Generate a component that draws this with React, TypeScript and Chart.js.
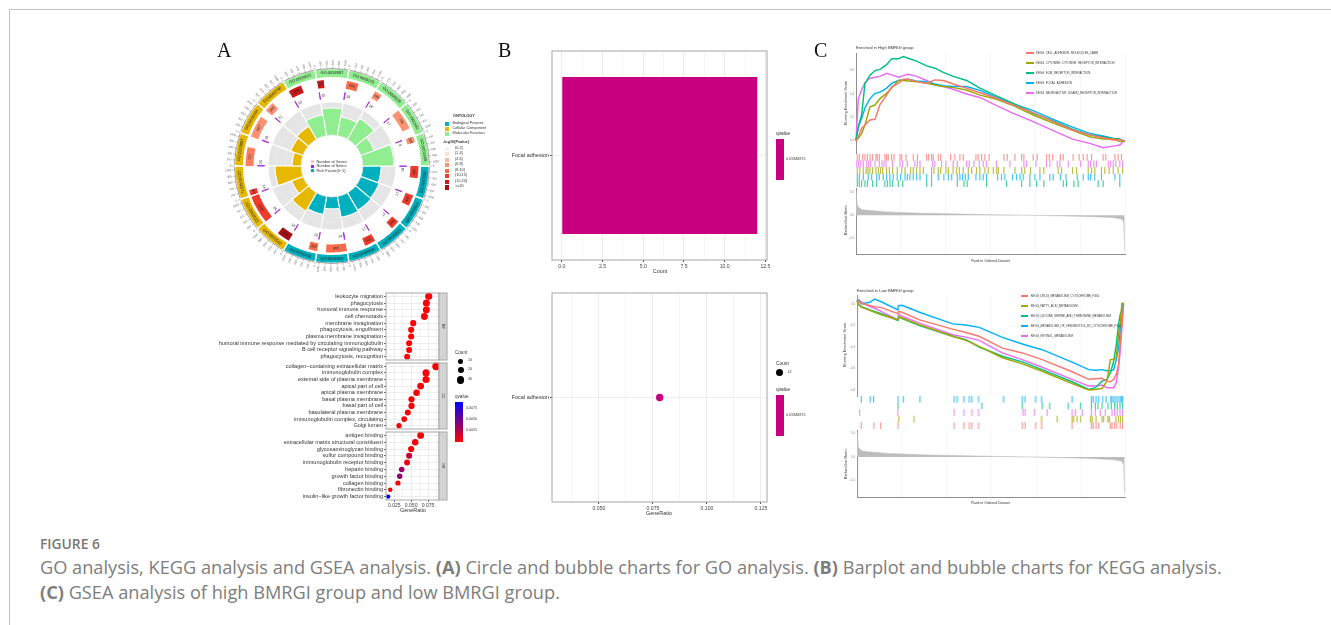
import React, { useEffect, useRef } from "react";
import { Chart, registerables } from "chart.js";
Chart.register(...registerables);

const SANS = '"Liberation Sans", Arial, sans-serif';

// ---------- Panel A: GO circle ----------
const goIds = [
  "GO:0002250", "GO:0099024", "GO:0006910", "GO:0050900", "GO:0006909", "GO:0002455",
  "GO:0072562", "GO:0062023", "GO:0042571", "GO:0009897", "GO:0016324", "GO:0005796",
  "GO:0003823", "GO:0034987", "GO:0005201", "GO:0005539", "GO:1901681", "GO:0001968",
];
const goRich = [0.55, 0.58, 0.61, 0.64, 0.36, 0.55, 0.64, 0.36, 0.79, 0.27, 0.39, 0.45, 0.64, 0.82, 0.58, 0.73, 0.42, 0.94];
const goGenes = [465, 423, 346, 421, 800, 333, 501, 1084, 207, 727, 847, 384, 509, 257, 455, 290, 798, 228];
const goSelect = [18, 17, 17, 17, 24, 15, 16, 24, 14, 25, 28, 21, 22, 15, 19, 10, 17, 9];
const goHeat = [
  "#ef3b2c", "#ef3b2c", "#ef3b2c", "#ef3b2c", "#fb6a4a", "#fb6a4a",
  "#a50f15", "#ef3b2c", "#ef3b2c", "#fb7f5f", "#fc9272", "#fc9272",
  "#cb181d", "#cb181d", "#fb6a4a", "#fc9272", "#fc9272", "#fc9272",
];
const goGroups = ["#00B0BE", "#E6B800", "#90EE90"];
const sectorGeneMax = 1140;
const geneTicks = [0, 200, 400, 600, 800, 1000];
const ontologyLegend = ["Biological Process", "Cellular Component", "Molecular Function"];
const heatLegend = ["(0,2]", "(2,4]", "(4,6]", "(6,8]", "(8,10]", "(10,15]", "(15,20]", ">=20"];
const heatLegendColors = ["#f7f0ec", "#fde0d2", "#fcbba1", "#fc9272", "#fb6a4a", "#ef3b2c", "#cb181d", "#a50f15"];
const centerLegend = ["Number of Genes", "Number of Select", "Rich Factor(0~1)"];
const centerLegendColors = ["#ffc0cb", "#a020f0", "#00B0BE"];

// ---------- Panel A: GO dot plot ----------
const bpTerms = ["leukocyte migration", "phagocytosis", "humoral immune response", "cell chemotaxis", "membrane invagination", "phagocytosis, engulfment", "plasma membrane invagination", "humoral immune response mediated by circulating immunoglobulin", "B cell receptor signaling pathway", "phagocytosis, recognition"];
const bpRatio = [0.076, 0.0725, 0.0725, 0.0696, 0.053, 0.05, 0.05, 0.047, 0.047, 0.044];
const bpCount = [26, 25, 25, 24, 18, 17, 17, 16, 16, 15];
const bpQ = [0.0002, 0.0002, 0.0002, 0.0002, 0.0002, 0.0002, 0.0002, 0.0002, 0.0002, 0.0002];
const ccTerms = ["collagen\u2212containing extracellular matrix", "immunoglobulin complex", "external side of plasma membrane", "apical part of cell", "apical plasma membrane", "basal plasma membrane", "basal part of cell", "basolateral plasma membrane", "immunoglobulin complex, circulating", "Golgi lumen"];
const ccRatio = [0.087, 0.072, 0.072, 0.064, 0.058, 0.0505, 0.0505, 0.045, 0.0397, 0.032];
const ccCount = [33, 26, 26, 23, 21, 18, 18, 16, 14, 11];
const ccQ = [0.0002, 0.0002, 0.0002, 0.0002, 0.0002, 0.0002, 0.0002, 0.0002, 0.0002, 0.0002];
const mfTerms = ["antigen binding", "extracellular matrix structural constituent", "glycosaminoglycan binding", "sulfur compound binding", "immunoglobulin receptor binding", "heparin binding", "growth factor binding", "collagen binding", "fibronectin binding", "insulin\u2212like growth factor binding"];
const mfRatio = [0.064, 0.056, 0.05, 0.047, 0.044, 0.036, 0.033, 0.0304, 0.019, 0.016];
const mfCount = [23, 20, 18, 17, 16, 13, 12, 11, 7, 6];
const mfQ = [0.0002, 0.0002, 0.0002, 0.0022, 0.0005, 0.0038, 0.0042, 0.0003, 0.0003, 0.0095];
const dotCountLegend = [10, 20, 30];
const dotQLegend = ["0.0075", "0.0050", "0.0025"];

// ---------- Panel B ----------
const keggTerm = ["Focal adhesion"];
const keggCount = [12];
const keggRatio = [0.0781];
const keggQText = "0.05946975";
const keggColor = "#C8007F";

// ---------- Panel C: GSEA ----------
const gseaColors = ["#F8766D", "#A3A500", "#00BF7D", "#00B0F6", "#E76BF3"];
const highNames = ["KEGG_CELL_ADHESION_MOLECULES_CAMS", "KEGG_CYTOKINE_CYTOKINE_RECEPTOR_INTERACTION", "KEGG_ECM_RECEPTOR_INTERACTION", "KEGG_FOCAL_ADHESION", "KEGG_NEUROACTIVE_LIGAND_RECEPTOR_INTERACTION"];
const highRanks = [0, 125, 300, 480, 750, 1020, 1285, 1640, 1910, 2270, 2535, 2800, 3250, 3785, 4230, 4680, 5215, 5930, 6640, 7535, 8430, 9500, 10570, 11640, 12535, 13250, 13785, 14140, 14410];
const highSalmon = [0, 0.034, 0.105, 0.135, 0.177, 0.183, 0.31, 0.39, 0.46, 0.49, 0.525, 0.525, 0.505, 0.49, 0.52, 0.515, 0.485, 0.45, 0.41, 0.363, 0.305, 0.24, 0.163, 0.09, 0.05, 0.026, 0.006, 0.011, -0.006];
const highOlive = [0, 0.02, 0.06, 0.135, 0.29, 0.305, 0.36, 0.405, 0.45, 0.515, 0.515, 0.51, 0.505, 0.49, 0.477, 0.463, 0.454, 0.434, 0.39, 0.354, 0.3, 0.22, 0.15, 0.086, 0.034, 0.014, 0.017, -0.006, 0];
const highGreen = [0, 0.12, 0.22, 0.49, 0.56, 0.6, 0.61, 0.65, 0.7, 0.7, 0.72, 0.705, 0.68, 0.64, 0.62, 0.585, 0.55, 0.515, 0.45, 0.383, 0.32, 0.235, 0.17, 0.097, 0.05, 0.034, 0.02, 0.012, -0.003];
const highBlue = [0, 0.12, 0.19, 0.28, 0.36, 0.405, 0.415, 0.45, 0.49, 0.515, 0.52, 0.525, 0.51, 0.505, 0.485, 0.47, 0.463, 0.463, 0.43, 0.37, 0.315, 0.257, 0.183, 0.114, 0.063, 0.04, 0.02, 0.015, -0.01];
const highPurple = [0, 0.36, 0.434, 0.497, 0.534, 0.543, 0.55, 0.577, 0.563, 0.543, 0.557, 0.568, 0.55, 0.515, 0.477, 0.463, 0.44, 0.4, 0.37, 0.3, 0.234, 0.163, 0.086, 0.011, -0.023, -0.06, -0.046, -0.037, 0.006];
const highHitsSalmon = [70, 180, 360, 480, 610, 750, 890, 1070, 1140, 1250, 1550, 1640, 1730, 1910, 2040, 2360, 2450, 2680, 3070, 3290, 3790, 3890, 4050, 4140, 4410, 4540, 5070, 5300, 5570, 5750, 6430, 6550, 6730, 6910, 7140, 7930, 8110, 8520, 8880, 9000, 9500, 9710, 10210, 10360, 10540, 10960, 11110, 11640, 11960, 12180, 12390, 12630, 13250, 13390, 13880, 14050, 14230];
const highHitsPurple = [40, 140, 250, 390, 570, 680, 790, 1020, 1250, 1390, 1500, 1610, 1960, 2360, 2500, 2750, 3160, 3290, 3430, 4110, 4230, 4590, 4820, 5210, 5430, 5930, 6070, 6320, 6610, 6820, 7000, 7540, 8250, 9000, 9140, 9640, 10210, 10390, 10790, 10930, 11380, 12040, 12450, 12570, 12750, 12890, 13520, 13640, 13790, 13930, 14140, 14290];
const highHitsOlive = [70, 210, 390, 540, 640, 750, 890, 1070, 1200, 1320, 1430, 1640, 1790, 1960, 2210, 2450, 2630, 2930, 3070, 3250, 3430, 3610, 4050, 4180, 4410, 4540, 4820, 4950, 5210, 5390, 5540, 5750, 6020, 6200, 6460, 6640, 6910, 7090, 7360, 7540, 7630, 7930, 8520, 8880, 9050, 9360, 9860, 10070, 10840, 11020, 11610, 11820, 12450, 12630, 12800, 13160, 13340, 13570, 13790, 14050, 14290];
const highHitsBlue = [70, 180, 390, 660, 840, 1110, 1250, 1460, 1640, 1820, 2000, 2210, 2390, 2630, 2750, 2890, 3070, 3250, 3430, 3790, 4050, 4410, 4710, 4950, 5130, 5430, 5570, 5710, 5860, 6020, 6430, 6640, 6820, 7000, 7590, 7800, 7980, 8390, 8610, 8790, 8960, 9320, 9590, 9860, 10390, 10570, 10960, 11250, 11860, 12180, 12450, 12570, 12800, 13160, 13880, 14140];
const highHitsGreen = [70, 180, 300, 480, 610, 890, 1110, 1550, 1680, 1820, 1960, 2270, 2500, 3790, 4050, 5430, 5790, 5960, 7000, 8070, 8880, 9320, 9680, 10070, 11110, 11290, 11680, 11910, 12980, 13250, 14140];

const lowNames = ["KEGG_DRUG_METABOLISM_CYTOCHROME_P450", "KEGG_FATTY_ACID_METABOLISM", "KEGG_GLYCINE_SERINE_AND_THREONINE_METABOLISM", "KEGG_METABOLISM_OF_XENOBIOTICS_BY_CYTOCHROME_P450", "KEGG_RETINOL_METABOLISM"];
const lowRanks = [0, 110, 230, 680, 950, 1300, 2200, 2230, 2460, 3360, 5140, 5860, 6570, 7820, 8890, 9960, 11570, 12470, 12820, 13180, 13450, 13630, 13810, 13950, 14070, 14160, 14250, 14340];
const lowSalmon = [0.037, 0.02, 0.006, -0.015, -0.025, -0.034, -0.09, -0.07, -0.08, -0.148, -0.234, -0.265, -0.3, -0.41, -0.455, -0.517, -0.63, -0.7, -0.695, -0.69, -0.717, -0.723, -0.7, -0.655, -0.563, -0.378, -0.194, -0.01];
const lowOlive = [0.03, -0.01, -0.03, -0.06, -0.077, -0.1, -0.148, -0.117, -0.133, -0.194, -0.3, -0.338, -0.394, -0.5, -0.557, -0.625, -0.74, -0.8, -0.794, -0.785, -0.717, -0.517, -0.517, -0.495, -0.286, -0.194, 0.006, 0.006];
const lowGreen = [0.037, -0.01, -0.025, -0.055, -0.07, -0.09, -0.154, -0.123, -0.138, -0.2, -0.3, -0.332, -0.4, -0.486, -0.538, -0.61, -0.723, -0.794, -0.778, -0.717, -0.7, -0.64, -0.532, -0.378, -0.194, -0.1, -0.055, 0.006];
const lowBlue = [0.02, 0.037, 0, 0.015, 0.045, 0.02, -0.055, -0.015, -0.015, -0.077, -0.185, -0.195, -0.218, -0.31, -0.372, -0.425, -0.54, -0.61, -0.615, -0.61, -0.62, -0.62, -0.61, -0.517, -0.41, -0.255, -0.13, 0.006];
const lowPurple = [0.046, 0.028, 0.02, -0.025, -0.04, -0.07, -0.148, -0.095, -0.117, -0.178, -0.286, -0.308, -0.338, -0.455, -0.517, -0.588, -0.7, -0.763, -0.763, -0.754, -0.778, -0.778, -0.778, -0.732, -0.594, -0.44, -0.225, -0.01];
const lowHitsBlue = [230, 710, 890, 2210, 2500, 3390, 5230, 5390, 5750, 6040, 6180, 6540, 7890, 8890, 9040, 9610, 9930, 11570, 12610, 12710, 12860, 13000, 13220, 13400, 13650, 13720, 13820, 13930, 14040, 14150, 14220, 14290];
const lowHitsGreen = [2210, 6720, 8890, 9960, 10360, 11360, 12020, 12610, 12820, 12960, 13180, 13500, 13680, 13860, 14000, 14150, 14290];
const lowHitsPurple = [140, 2200, 5230, 5750, 6180, 6540, 8930, 9040, 9540, 10230, 11570, 11750, 12110, 12610, 12820, 13090, 13360, 13720, 13860, 14000, 14150, 14290];
const lowHitsOlive = [2250, 3070, 9930, 10770, 11570, 11660, 11840, 12020, 12560, 12650, 12860, 13180, 13270, 13500, 13570, 13930, 14070, 14180, 14290];
const lowHitsSalmon = [230, 910, 1270, 2210, 5230, 5750, 6040, 6180, 6540, 8890, 9040, 9610, 9930, 11570, 12610, 12710, 12860, 13000, 13630, 13720, 13860, 13980, 14160, 14290];

const metricRanks = [0, 70, 300, 1640, 3430, 5070, 7540, 9140, 10000, 12390, 13790, 14230, 14350, 14400];
const metricHigh = [5.4, 2, 1.2, 0.7, 0.45, 0.3, 0.08, 0, -0.05, -0.25, -0.5, -0.8, -1.4, -7.8];
const metricLow = [5.4, 2, 1.2, 0.75, 0.45, 0.3, 0.1, 0, -0.05, -0.3, -0.6, -0.9, -1.6, -7.9];

// ---------- helpers ----------
type Box = { x: number; y: number; w: number; h: number; m?: number[] };

function ChartBox({ box, config }: { box: Box; config: any }) {
  const ref = useRef<HTMLCanvasElement>(null);
  const [l, t, r, b] = box.m || [0, 0, 0, 0];
  useEffect(() => {
    const options = config.options || {};
    const radial = config.type === "doughnut" || config.type === "polarArea";
    const scales = options.scales || {};
    if (!radial) {
      if (scales.x) scales.x.afterFit = (s: any) => { s.height = b; };
      if (scales.y) scales.y.afterFit = (s: any) => { s.width = l; };
    }
    const chart = new Chart(ref.current as HTMLCanvasElement, {
      ...config,
      options: {
        ...options,
        responsive: false,
        animation: false,
        events: [],
        layout: {
          autoPadding: false,
          padding: radial ? { left: l, top: t, right: r, bottom: b } : { top: t, right: r },
        },
        plugins: { legend: { display: false }, tooltip: { enabled: false } },
      },
    });
    return () => chart.destroy();
  }, []);
  return (
    <canvas
      ref={ref}
      width={box.w + l + r}
      height={box.h + t + b}
      style={{ position: "absolute", left: box.x - l, top: box.y - t, width: box.w + l + r, height: box.h + t + b }}
    />
  );
}

function T({ x, y, s = 5, c = "#333", a = 0, rot = 0, w = 400, font = SANS, children }: any) {
  return (
    <div
      style={{
        position: "absolute", left: x, top: y, fontSize: s, color: c, fontFamily: font, lineHeight: 1,
        fontWeight: w, whiteSpace: "nowrap",
        transform: `translate(${-a * 100}%, -50%) rotate(${rot}deg)`, transformOrigin: `${a * 100}% 50%`,
      }}
    >
      {children}
    </div>
  );
}

function Rect({ x, y, w, h, c, round = 0, bg }: any) {
  return <div style={{ position: "absolute", left: x, top: y, width: w, height: h, background: bg || c, borderRadius: round }} />;
}

const framePlugin = (color = "#aeaeae", width = 1.1) => ({
  id: "frame",
  afterDraw(chart: any) {
    const { ctx, chartArea: a } = chart;
    ctx.save();
    ctx.strokeStyle = color;
    ctx.lineWidth = width;
    ctx.strokeRect(a.left, a.top, a.right - a.left, a.bottom - a.top);
    ctx.restore();
  },
});

// ---------- circle chart ----------
const ringPlugin = {
  id: "ringText",
  afterDraw(chart: any) {
    const ctx = chart.ctx;
    const band = chart.getDatasetMeta(0).data;
    const genes = chart.getDatasetMeta(2).data;
    const select = chart.getDatasetMeta(4).data;
    const tangent = (x: number, y: number, r: number, ang: number, text: string, size: number, color: string) => {
      ctx.save();
      ctx.translate(x + Math.cos(ang) * r, y + Math.sin(ang) * r);
      ctx.rotate(Math.sin(ang) > 0.05 ? ang - Math.PI / 2 : ang + Math.PI / 2);
      ctx.font = `${size}px ${SANS}`;
      ctx.fillStyle = color;
      ctx.textAlign = "center";
      ctx.textBaseline = "middle";
      ctx.fillText(text, 0, 0);
      ctx.restore();
    };
    band.forEach((arc: any, i: number) => {
      const { x, y, startAngle, endAngle, innerRadius, outerRadius } = arc;
      const mid = (startAngle + endAngle) / 2;
      tangent(x, y, (innerRadius + outerRadius) / 2, mid, goIds[i], 4, "#222");
      ctx.strokeStyle = "#444";
      ctx.lineWidth = 0.5;
      ctx.beginPath();
      ctx.arc(x, y, outerRadius + 0.2, startAngle + 0.012, endAngle - 0.012);
      ctx.stroke();
      geneTicks.forEach((g) => {
        const ang = startAngle + ((endAngle - startAngle) * g) / sectorGeneMax;
        const cos = Math.cos(ang);
        const sin = Math.sin(ang);
        ctx.strokeStyle = "#666";
        ctx.lineWidth = 0.4;
        ctx.beginPath();
        ctx.moveTo(x + cos * outerRadius, y + sin * outerRadius);
        ctx.lineTo(x + cos * (outerRadius + 2.5), y + sin * (outerRadius + 2.5));
        ctx.stroke();
        ctx.save();
        ctx.translate(x + cos * (outerRadius + 3.5), y + sin * (outerRadius + 3.5));
        ctx.rotate(cos < 0 ? ang + Math.PI : ang);
        ctx.font = `2.8px ${SANS}`;
        ctx.fillStyle = "#666";
        ctx.textAlign = cos < 0 ? "right" : "left";
        ctx.textBaseline = "middle";
        ctx.fillText(String(g), 0, 0);
        ctx.restore();
      });
      const ga = genes[i * 2];
      tangent(x, y, (ga.innerRadius + ga.outerRadius) / 2, (ga.startAngle + ga.endAngle) / 2, String(goGenes[i]), 3.6, "#222");
      const sa = select[i * 2];
      tangent(x, y, (sa.innerRadius + sa.outerRadius) / 2, sa.endAngle + 0.05, String(goSelect[i]), 3.6, "#222");
    });
  },
};

const sectorPairs = (vals: number[]) => vals.flatMap((v) => [v, sectorGeneMax - v]);
const sectorColors = (colors: string[]) => colors.flatMap((c) => [c, "rgba(0,0,0,0)"]);
const groupColors = goIds.map((_, i) => goGroups[Math.floor(i / 6)]);

const circleConfig = {
  type: "doughnut",
  data: {
    labels: goIds,
    datasets: [
      { data: goIds.map(() => 1), backgroundColor: groupColors, borderColor: "#fff", borderWidth: 1.4, weight: 9 },
      { data: [1], backgroundColor: "rgba(0,0,0,0)", borderWidth: 0, weight: 2 },
      { data: sectorPairs(goGenes), backgroundColor: sectorColors(goHeat), borderWidth: 0, weight: 8 },
      { data: [1], backgroundColor: "rgba(0,0,0,0)", borderWidth: 0, weight: 4 },
      {
        data: sectorPairs(goSelect),
        backgroundColor: sectorColors(goIds.map(() => "#A83BD8")),
        borderColor: sectorColors(goIds.map(() => "#A83BD8")),
        borderWidth: 1,
        weight: 7,
      },
    ],
  },
  options: { rotation: 90, cutout: "69.4%" },
  plugins: [ringPlugin],
};

const richConfig = {
  type: "polarArea",
  data: {
    labels: goIds,
    datasets: [
      { data: goRich, backgroundColor: groupColors, borderColor: "#fff", borderWidth: 1.1 },
      { data: goRich.map(() => 1), backgroundColor: "#E5E5E5", borderColor: "#fff", borderWidth: 1.1 },
    ],
  },
  options: { scales: { r: { min: -0.94, max: 1, startAngle: 90, display: false } } },
  plugins: [
    {
      id: "richRings",
      afterDatasetDraw(chart: any, args: any) {
        if (args.index !== 1) return;
        const r = chart.scales.r;
        const ctx = chart.ctx;
        ctx.save();
        ctx.strokeStyle = "#EFEFEF";
        ctx.lineWidth = 0.5;
        [0.25, 0.5, 0.75].forEach((v) => {
          ctx.beginPath();
          ctx.arc(r.xCenter, r.yCenter, r.getDistanceFromCenterForValue(v), 0, Math.PI * 2);
          ctx.stroke();
        });
        ctx.restore();
      },
      afterDatasetsDraw(chart: any) {
        const r = chart.scales.r;
        const ctx = chart.ctx;
        ctx.save();
        ctx.fillStyle = "#fff";
        ctx.strokeStyle = "#E2E2E2";
        ctx.lineWidth = 0.7;
        ctx.beginPath();
        ctx.arc(r.xCenter, r.yCenter, r.getDistanceFromCenterForValue(0), 0, Math.PI * 2);
        ctx.fill();
        ctx.stroke();
        ctx.restore();
      },
    },
  ],
};

// ---------- dot plot ----------
const qColor = (q: number) => {
  const t = Math.min(1, q / 0.0095);
  return `rgb(${Math.round(255 * (1 - t))},0,${Math.round(255 * t)})`;
};
const countRadius = (n: number) => 0.9 + Math.sqrt(n) * 0.52;
const nearMajor = (v: number, step: number) => Math.abs(v / step - Math.round(v / step)) < 1e-6;

const dotConfig = (terms: string[], ratio: number[], count: number[], q: number[], strip: string, showX: boolean) => ({
  type: "bubble",
  data: {
    datasets: [
      {
        data: terms.map((t, i) => ({ x: ratio[i], y: t, r: countRadius(count[i]) })),
        backgroundColor: q.map(qColor),
        borderWidth: 0,
        clip: false,
      },
    ],
  },
  options: {
    scales: {
      x: {
        type: "linear", min: 0.01275, max: 0.0912,
        grid: {
          color: (c: any) => (nearMajor(c.tick.value, 0.025) ? "#E6E6E6" : "#F3F3F3"),
          tickColor: (c: any) => (nearMajor(c.tick.value, 0.025) && showX ? "#444" : "rgba(0,0,0,0)"),
          tickLength: 2, lineWidth: 0.8,
        },
        border: { display: false },
        ticks: {
          display: showX, stepSize: 0.0125, includeBounds: false, autoSkip: false, maxRotation: 0, padding: 1,
          font: { size: 5.1, family: SANS }, color: "#444",
          callback: (v: number) => (nearMajor(v, 0.025) ? v.toFixed(3) : ""),
        },
      },
      y: {
        type: "category", labels: terms, offset: true,
        grid: { offset: false, color: "#EAEAEA", tickColor: "#444", tickLength: 2, lineWidth: 0.8 },
        border: { display: false },
        ticks: { autoSkip: false, padding: 1, font: { size: 5.55, family: SANS }, color: "#333" },
      },
    },
  },
  plugins: [
    framePlugin("#a8a8a8", 1),
    {
      id: "strip",
      afterDraw(chart: any) {
        const { ctx, chartArea: a } = chart;
        ctx.save();
        ctx.fillStyle = "#D4D4D4";
        ctx.strokeStyle = "#a8a8a8";
        ctx.lineWidth = 1;
        ctx.fillRect(a.right, a.top, 8, a.bottom - a.top);
        ctx.strokeRect(a.right, a.top, 8, a.bottom - a.top);
        ctx.translate(a.right + 4, (a.top + a.bottom) / 2);
        ctx.rotate(Math.PI / 2);
        ctx.font = `3.6px ${SANS}`;
        ctx.fillStyle = "#333";
        ctx.textAlign = "center";
        ctx.textBaseline = "middle";
        ctx.fillText(strip, 0, 0);
        ctx.restore();
      },
    },
  ],
});

// ---------- KEGG ----------
const keggAxisY = () => ({
  type: "category", labels: keggTerm, offset: true,
  grid: { offset: false, color: "#EFEFEF", tickColor: "#444", tickLength: 2, lineWidth: 1 },
  border: { display: false },
  ticks: { padding: 1, font: { size: 5.5, family: SANS }, color: "#333" },
});
const keggAxisX = (min: number, max: number, step: number, major: number, digits: number) => ({
  type: "linear", min, max,
  grid: {
    color: (c: any) => (nearMajor(c.tick.value, major) ? "#EBEBEB" : "#F5F5F5"),
    tickColor: (c: any) => (nearMajor(c.tick.value, major) ? "#444" : "rgba(0,0,0,0)"),
    tickLength: 2, lineWidth: 1,
  },
  border: { display: false },
  ticks: {
    stepSize: step, includeBounds: false, autoSkip: false, maxRotation: 0, padding: 1.5,
    font: { size: 5.1, family: SANS }, color: "#444",
    callback: (v: number) => (nearMajor(v, major) ? v.toFixed(digits) : ""),
  },
});
const barConfig = {
  type: "bar",
  data: {
    labels: keggTerm,
    datasets: [{ data: keggCount, backgroundColor: keggColor, categoryPercentage: 1, barPercentage: 0.751 }],
  },
  options: { indexAxis: "y", scales: { x: keggAxisX(-0.6, 12.6, 1.25, 2.5, 1), y: keggAxisY() } },
  plugins: [framePlugin()],
};
const keggDotConfig = {
  type: "bubble",
  data: {
    datasets: [
      {
        data: keggTerm.map((t, i) => ({ x: keggRatio[i], y: t, r: countRadius(keggCount[i]) + 1 })),
        backgroundColor: keggColor,
        borderWidth: 0,
      },
    ],
  },
  options: { scales: { x: keggAxisX(0.02824, 0.1278, 0.0125, 0.025, 3), y: keggAxisY() } },
  plugins: [framePlugin()],
};

// ---------- GSEA ----------
const RANK_MAX = 14420;
const rankGrid = (showLabels: boolean, axisLine: boolean) => ({
  type: "linear", min: 0, max: RANK_MAX,
  grid: {
    color: (c: any) => (nearMajor(c.tick.value, 5000) ? "#EDEDED" : "#F4F4F4"),
    drawTicks: showLabels, tickLength: 1.5, tickColor: "rgba(0,0,0,0)", lineWidth: 0.7,
  },
  border: axisLine ? { display: true, color: "#8E8E8E", width: 1 } : { display: false },
  ticks: {
    display: showLabels, stepSize: 2500, includeBounds: false, autoSkip: false, maxRotation: 0, padding: 0.5,
    font: { size: 2.8, family: SANS }, color: "#888",
    callback: (v: number) => (v > 0 && nearMajor(v, 5000) ? String(v) : ""),
  },
});
const yNum = (step: number, min: number, max: number) => ({
  type: "linear", min, max,
  grid: { display: false, drawTicks: true, tickLength: 1.5 },
  border: { display: true, color: "#8E8E8E", width: 1 },
  ticks: {
    stepSize: step, includeBounds: false, padding: 0.5, font: { size: 2.8, family: SANS }, color: "#888",
    callback: (v: number) => (Math.abs(v) < 1e-9 ? 0 : v).toFixed(1),
  },
});
const esConfig = (ranks: number[], curves: number[][], min: number, max: number) => ({
  type: "line",
  data: {
    datasets: curves.map((vals, i) => ({
      data: ranks.map((r, k) => ({ x: r, y: vals[k] })),
      borderColor: gseaColors[i],
      borderWidth: 1.45,
      pointRadius: 0,
      tension: 0,
      clip: false,
    })),
  },
  options: { scales: { x: rankGrid(false, false), y: yNum(0.2, min, max) } },
});
const rugConfig = (rows: number[][], colors: string[]) => ({
  type: "scatter",
  data: {
    datasets: rows.map((hits, i) => ({
      data: hits.map((h) => ({ x: h, y: i })),
      pointStyle: "line",
      rotation: 90,
      pointRadius: 3.4,
      borderWidth: 1.2,
      borderColor: colors[i] + "B8",
      backgroundColor: colors[i],
    })),
  },
  options: {
    scales: {
      x: { ...rankGrid(false, false), grid: { display: false } },
      y: { type: "linear", min: -0.5, max: rows.length - 0.5, reverse: true, display: false },
    },
  },
});
const metricConfig = (ranks: number[], vals: number[], min: number, max: number) => ({
  type: "line",
  data: {
    datasets: [
      {
        data: ranks.map((r, k) => ({ x: r, y: vals[k] })),
        borderColor: "#BDBDBD",
        backgroundColor: "#BDBDBD",
        borderWidth: 0.6,
        pointRadius: 0,
        fill: "origin",
      },
    ],
  },
  options: { scales: { x: rankGrid(true, true), y: yNum(5, min, max) } },
});

function GseaLegend({ names, x, y }: { names: string[]; x: number; y: number }) {
  return (
    <>
      {names.map((n, i) => (
        <React.Fragment key={n}>
          <Rect x={x} y={Math.round(y + i * 10) - 1} w={7.5} h={2} c={gseaColors[i]} />
          <T x={x + 10} y={y + i * 10} s={2.85} c="#333">{n}</T>
        </React.Fragment>
      ))}
    </>
  );
}

const CAPTION_FONT = '"Open Sans", sans-serif';

export default function App() {
  return (
    <div style={{ position: "fixed", left: 0, top: 0, width: 1331, height: 625, overflow: "hidden", background: "#fff" }}>
      <div style={{ position: "absolute", left: 9, top: 9, width: 1500, height: 800, border: "1px solid #C2C2C2" }} />

      <div style={{ position: "absolute", left: 0, top: 0, width: 1331, height: 530, filter: "blur(0.35px)" }}>
        <T x={217} y={50} s={20} c="#111" font='"Liberation Serif", serif'>A</T>
        <T x={498} y={50} s={20} c="#111" font='"Liberation Serif", serif'>B</T>
        <T x={814} y={50} s={20} c="#111" font='"Liberation Serif", serif'>C</T>

        {/* A: circle */}
        <ChartBox box={{ x: 234, y: 68, w: 196, h: 196, m: [22, 22, 22, 22] }} config={circleConfig} />
        <ChartBox box={{ x: 268, y: 102, w: 128, h: 128 }} config={richConfig} />
        {centerLegend.map((n, i) => (
          <React.Fragment key={n}>
            <Rect x={311} y={160.2 + i * 4.4} w={3} h={3} c={centerLegendColors[i]} />
            <T x={316.5} y={161.8 + i * 4.4} s={3.9} c="#333">{n}</T>
          </React.Fragment>
        ))}
        <T x={453} y={117} s={3.8} w={700}>ONTOLOGY</T>
        {ontologyLegend.map((n, i) => (
          <React.Fragment key={n}>
            <Rect x={445.3} y={122.3 + i * 5} w={4} h={3.6} c={goGroups[i]} />
            <T x={452.5} y={124 + i * 5} s={3.8} c="#333">{n}</T>
          </React.Fragment>
        ))}
        <T x={443} y={143} s={3.8} w={700}>-log10(Pvalue)</T>
        {heatLegend.map((n, i) => (
          <React.Fragment key={n}>
            <Rect x={445.3} y={146.5 + i * 5.55} w={4} h={4.2} c={heatLegendColors[i]} />
            <T x={455} y={148.5 + i * 5.55} s={3.8} c="#333">{n}</T>
          </React.Fragment>
        ))}

        {/* A: dot plot */}
        <ChartBox box={{ x: 386, y: 293, w: 53, h: 67, m: [176, 5, 10, 5] }} config={dotConfig(bpTerms, bpRatio, bpCount, bpQ, "BP", false)} />
        <ChartBox box={{ x: 386, y: 363, w: 53, h: 66, m: [176, 5, 10, 5] }} config={dotConfig(ccTerms, ccRatio, ccCount, ccQ, "CC", false)} />
        <ChartBox box={{ x: 386, y: 432, w: 53, h: 68, m: [176, 5, 10, 10] }} config={dotConfig(mfTerms, mfRatio, mfCount, mfQ, "MF", true)} />
        <T x={413} y={510.5} s={5.4} a={0.5}>GeneRatio</T>
        <T x={455} y={352.7} s={4.6}>Count</T>
        {dotCountLegend.map((n, i) => (
          <React.Fragment key={n}>
            <Rect x={460.7 - [2.3, 3, 3.7][i]} y={[361.3, 370.3, 380][i] - [2.3, 3, 3.7][i]} w={[4.6, 6, 7.4][i]} h={[4.6, 6, 7.4][i]} c="#000" round="50%" />
            <T x={468} y={[361.3, 370.3, 380][i]} s={3.6}>{n}</T>
          </React.Fragment>
        ))}
        <T x={455} y={397} s={4.6}>qvalue</T>
        <Rect x={455} y={402.3} w={8.3} h={39.4} bg="linear-gradient(to bottom, #0000ff, #ff0000)" />
        {dotQLegend.map((n, i) => (
          <T key={n} x={466} y={409 + i * 11} s={3.6}>{n}</T>
        ))}

        {/* B */}
        <ChartBox box={{ x: 552, y: 51, w: 215, h: 209, m: [52, 5, 10, 11] }} config={barConfig} />
        <T x={660} y={272} s={5.4} a={0.5}>Count</T>
        <T x={776} y={134} s={4.8}>qvalue</T>
        <Rect x={776} y={139} w={8} h={41} c={keggColor} />
        <T x={786} y={160} s={3.7}>{keggQText}</T>

        <ChartBox box={{ x: 552, y: 293, w: 215, h: 209, m: [52, 5, 10, 11] }} config={keggDotConfig} />
        <T x={659} y={514} s={5.4} a={0.5}>GeneRatio</T>
        <T x={776} y={363.5} s={4.8}>Count</T>
        <Rect x={776} y={369.2} w={7} h={7} c="#000" round="50%" />
        <T x={787.5} y={373} s={3.7}>{keggCount[0]}</T>
        <T x={776} y={390} s={4.8}>qvalue</T>
        <Rect x={776} y={395} w={8} h={41} c={keggColor} />
        <T x={786} y={415.5} s={3.7}>{keggQText}</T>

        {/* C top */}
        <T x={856} y={48.3} s={4.2} c="#333">Enriched in High BMRGI group</T>
        <ChartBox box={{ x: 856, y: 52.7, w: 269, h: 100.3, m: [14, 3, 2, 3] }} config={esConfig(highRanks, [highSalmon, highOlive, highGreen, highBlue, highPurple], -0.105, 0.75)} />
        <ChartBox box={{ x: 856, y: 153.7, w: 269, h: 33.3 }} config={rugConfig([highHitsSalmon, highHitsPurple, highHitsOlive, highHitsBlue, highHitsGreen], [gseaColors[0], gseaColors[4], gseaColors[1], gseaColors[3], gseaColors[2]])} />
        <ChartBox box={{ x: 856, y: 187.7, w: 269, h: 66.6, m: [14, 3, 2, 6] }} config={metricConfig(metricRanks, metricHigh, -8.4, 5.9)} />
        <GseaLegend names={highNames} x={1026} y={53.3} />
        <T x={846.7} y={103} s={3.7} a={0.5} rot={-90}>Running Enrichment Score</T>
        <T x={846.7} y={220} s={3.7} a={0.5} rot={-90}>Ranked List Metric</T>
        <T x={990.7} y={261.5} s={3.5} a={0.5}>Rank in Ordered Dataset</T>

        {/* C bottom */}
        <T x={857} y={290.7} s={4.2} c="#333">Enriched in Low BMRGI group</T>
        <ChartBox box={{ x: 857.3, y: 295, w: 267.7, h: 101, m: [14, 3, 2, 3] }} config={esConfig(lowRanks, [lowSalmon, lowOlive, lowGreen, lowBlue, lowPurple], -0.855, 0.083)} />
        <ChartBox box={{ x: 857.3, y: 396, w: 267.7, h: 33.3 }} config={rugConfig([lowHitsBlue, lowHitsGreen, lowHitsPurple, lowHitsOlive, lowHitsSalmon], [gseaColors[3], gseaColors[2], gseaColors[4], gseaColors[1], gseaColors[0]])} />
        <ChartBox box={{ x: 857.3, y: 430, w: 267.7, h: 67.3, m: [14, 3, 2, 6] }} config={metricConfig(metricRanks, metricLow, -8.6, 5.77)} />
        <GseaLegend names={lowNames} x={1020.7} y={295.7} />
        <T x={846} y={345} s={3.7} a={0.5} rot={-90}>Running Enrichment Score</T>
        <T x={846.7} y={464} s={3.7} a={0.5} rot={-90}>Ranked List Metric</T>
        <T x={990.7} y={503.7} s={3.5} a={0.5}>Rank in Ordered Dataset</T>
      </div>

      {/* caption */}
      <T x={40} y={544} s={13.8} c="#777" w={600} font={CAPTION_FONT}>FIGURE 6</T>
      <T x={40} y={567} s={18.2} c="#7d7d7d" font={CAPTION_FONT}>
        GO analysis, KEGG analysis and GSEA analysis. <b>(A)</b> Circle and bubble charts for GO analysis. <b>(B)</b> Barplot and bubble charts for KEGG analysis.
      </T>
      <T x={40} y={592} s={18.2} c="#7d7d7d" font={CAPTION_FONT}>
        <b>(C)</b> GSEA analysis of high BMRGI group and low BMRGI group.
      </T>
    </div>
  );
}
